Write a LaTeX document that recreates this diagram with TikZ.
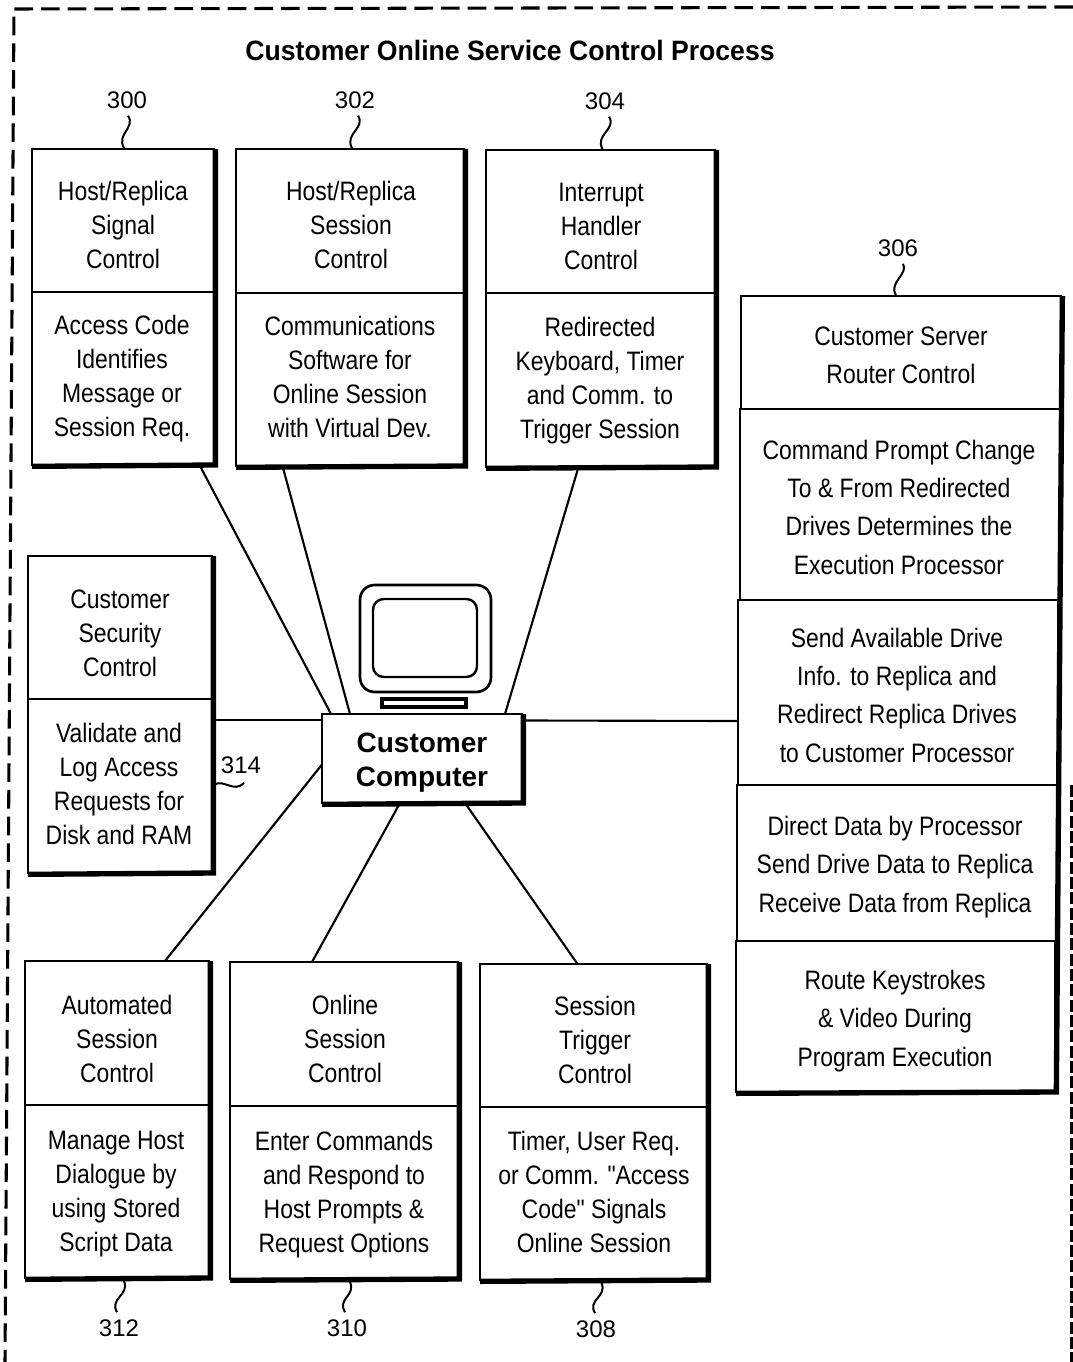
\documentclass[tikz,border=0pt]{standalone}
\usepackage{fontspec}
\setmainfont{Liberation Sans}
\newfontfamily\narrowf[FakeStretch=0.86]{Liberation Sans}
\newfontfamily\titlef[FakeStretch=0.95]{Liberation Sans Bold}
\usetikzlibrary{calc}
\tikzset{
  sect/.style={draw,line width=1.5pt,fill=white,inner sep=0pt,outer sep=0pt},
  shade line/.style={line width=4pt,line join=miter},
  txt/.style={align=center,font=\narrowf\fontsize{20}{25.5}\selectfont,inner sep=0pt,text depth=0pt},
  txtw/.style={align=center,font=\narrowf\fontsize{20}{28.75}\selectfont,inner sep=0pt,text depth=0pt},
  num/.style={font=\fontsize{18}{20}\selectfont,inner sep=0pt},
  link/.style={line width=1.6pt},
  lead/.style={line width=1.5pt},
  frame line/.style={line width=2.3pt},
}
\newcommand{\sectn}[6]{%
  \node[sect,minimum width={(#4-#2)*0.75pt},minimum height={(#5-#3)*0.75pt}] (#1) at ({(#2+#4)/2},{(#3+#5)/2}) {#6};}
\newcommand{\shadeit}[2]{\draw[shade line] ([xshift=1pt]#1.north east) -- ([xshift=1pt]#2.south east) -- ([yshift=-1pt]#2.south west);}
\begin{document}
\begin{tikzpicture}[x=0.75pt,y=-0.75pt]
\useasboundingbox (0,0) rectangle (1073,1362);
\fill[white] (0,0) rectangle (1073,1362);
% dashed frame
\coordinate (fa) at (1073,7);
\coordinate (fb) at (14,9);
\coordinate (fc) at (5,1362);
\coordinate (fd) at (1072,785);
\coordinate (fe) at (1072,1362);
\draw[frame line,dash pattern=on 14pt off 6pt] (fa) -- (fb) -- (fc);
\draw[frame line,line width=3pt,dash pattern=on 9pt off 2.5pt] (fd) -- (fe);
% title
\node[font=\titlef\fontsize{21}{24}\selectfont,inner sep=0pt] (title) at (510,50) {Customer Online Service Control Process};
% boxes
\sectn{b300t}{32}{149}{214}{292}{}
\sectn{b300b}{32}{292}{214}{465}{}
\sectn{b302t}{236}{149}{464}{293}{}
\sectn{b302b}{236}{293}{464}{466}{}
\sectn{b304t}{486}{150}{715}{293}{}
\sectn{b304b}{486}{293}{715}{467}{}
\sectn{b306a}{741}{296}{1061}{409}{}
\sectn{b306b}{740}{409}{1060}{600}{}
\sectn{b306c}{738}{600}{1058}{785}{}
\sectn{b306d}{737}{785}{1057}{941}{}
\sectn{b306e}{736}{941}{1055}{1092}{}
\sectn{b314t}{28}{556}{212}{699}{}
\sectn{b314b}{28}{699}{212}{873}{}
\sectn{b312t}{25}{961}{209}{1105}{}
\sectn{b312b}{25}{1105}{209}{1278}{}
\sectn{b310t}{230}{962}{458}{1106}{}
\sectn{b310b}{230}{1106}{458}{1279}{}
\sectn{b308t}{480}{964}{707}{1107}{}
\sectn{b308b}{480}{1107}{707}{1280}{}
\sectn{cc}{322}{714}{522}{803}{}
\shadeit{b300t}{b300b}
\shadeit{b302t}{b302b}
\shadeit{b304t}{b304b}
\shadeit{b306a}{b306e}
\shadeit{b314t}{b314b}
\shadeit{b312t}{b312b}
\shadeit{b310t}{b310b}
\shadeit{b308t}{b308b}
\shadeit{cc}{cc}
% box text
\node[txt] (t300a) at (123,225) {Host/Replica\\Signal\\Control};
\node[txt] (t300b) at (122,376) {Access Code\\Identifies\\Message or\\Session Req.};
\node[txt] (t302a) at (351,225) {Host/Replica\\Session\\Control};
\node[txt] (t302b) at (350,377) {Communications\\Software for\\Online Session\\with Virtual Dev.};
\node[txt] (t304a) at (601,226) {Interrupt\\Handler\\Control};
\node[txt] (t304b) at (600,378) {Redirected\\Keyboard, Timer\\and Comm. to\\Trigger Session};
\node[txtw] (t306a) at (901,355) {Customer Server\\Router Control};
\node[txtw] (t306b) at (899,507) {Command Prompt Change\\To \& From Redirected\\Drives Determines the\\Execution Processor};
\node[txtw] (t306c) at (897,695) {Send Available Drive\\Info. to Replica and\\Redirect Replica Drives\\to Customer Processor};
\node[txtw] (t306d) at (895,864) {Direct Data by Processor\\Send Drive Data to Replica\\Receive Data from Replica};
\node[txtw] (t306e) at (895,1018) {Route Keystrokes\\\& Video During\\Program Execution};
\node[txt] (t314a) at (120,633) {Customer\\Security\\Control};
\node[txt] (t314b) at (119,784) {Validate and\\Log Access\\Requests for\\Disk and RAM};
\node[txt] (t312a) at (117,1039) {Automated\\Session\\Control};
\node[txt] (t312b) at (116,1191) {Manage Host\\Dialogue by\\using Stored\\Script Data};
\node[txt] (t310a) at (345,1039) {Online\\Session\\Control};
\node[txt] (t310b) at (344,1192) {Enter Commands\\and Respond to\\Host Prompts \&\\Request Options};
\node[txt] (t308a) at (595,1040) {Session\\Trigger\\Control};
\node[txt] (t308b) at (594,1192) {Timer, User Req.\\or Comm. "Access\\Code" Signals\\Online Session};
\node[align=center,inner sep=0pt,text depth=0pt,font=\bfseries\fontsize{21}{25.5}\selectfont] (cct) at (422,760) {Customer\\Computer};
% connectors
\draw[link] ($(b300b.south)+(76.5,0)$) -- ($(cc.north)+(-91,0)$);
\draw[link] ($(b302b.south)+(-67.5,0)$) -- ($(cc.north)+(-72,0)$);
\draw[link] ($(b304b.south)+(-22,0)$) -- ($(cc.north)+(83,0)$);
\draw[link] ($(cc.east)+(0,-38)$) -- ($(b306c.west)+(0,28.5)$);
\draw[link] ($(b314b.east)+(0,-66)$) -- ($(cc.west)+(0,-38.5)$);
\draw[link] ($(b312t.north)+(48,0)$) -- ($(cc.west)+(0,6)$);
\draw[link] ($(b310t.north)+(-32,0)$) -- ($(cc.south)+(-22,0)$);
\draw[link] ($(b308t.north)+(-16,0)$) -- ($(cc.south)+(43,0)$);
% monitor
\draw[line width=2pt,rounded corners=11pt] (360,585) rectangle (491,692);
\draw[line width=1.8pt,rounded corners=8pt] (373,599) rectangle (477,677);
\draw[line width=3pt] (382,699) rectangle (466,707);
% reference numbers
\node[num] (l300) at (127,100) {300};
\node[num] (l302) at (355,100) {302};
\node[num] (l304) at (605,101) {304};
\node[num] (l306) at (898,248) {306};
\node[num] (l312) at (119,1328) {312};
\node[num] (l310) at (347,1328) {310};
\node[num] (l308) at (596,1329) {308};
\node[num] (l314) at (241,765) {314};
\draw[lead] ($(l300.south)+(1,7)$) .. controls +(8,12) and +(-8,-14) .. ($(b300t.north)+(1,-1)$);
\draw[lead] ($(l302.south)+(3,7)$) .. controls +(8,12) and +(-8,-14) .. ($(b302t.north)+(2,-1)$);
\draw[lead] ($(l304.south)+(4,7)$) .. controls +(8,12) and +(-8,-14) .. ($(b304t.north)+(2,-1)$);
\draw[lead] ($(l306.south)+(5,7)$) .. controls +(6,10) and +(-8,-12) .. ($(b306a.north)+(-5,-1)$);
\draw[lead] ($(b312b.south)+(7,3)$) .. controls +(6,14) and +(-8,-14) .. ($(l312.north)+(-2,-7)$);
\draw[lead] ($(b310b.south)+(6,3)$) .. controls +(6,14) and +(-8,-14) .. ($(l310.north)+(-2,-7)$);
\draw[lead] ($(b308b.south)+(8,3)$) .. controls +(6,14) and +(-8,-14) .. ($(l308.north)+(-1,-7)$);
\draw[lead] ($(b314b.east)+(2,-1)$) .. controls +(9,-7) and +(-10,11) .. ($(l314.south)+(3,9)$);
\end{tikzpicture}
\end{document}
